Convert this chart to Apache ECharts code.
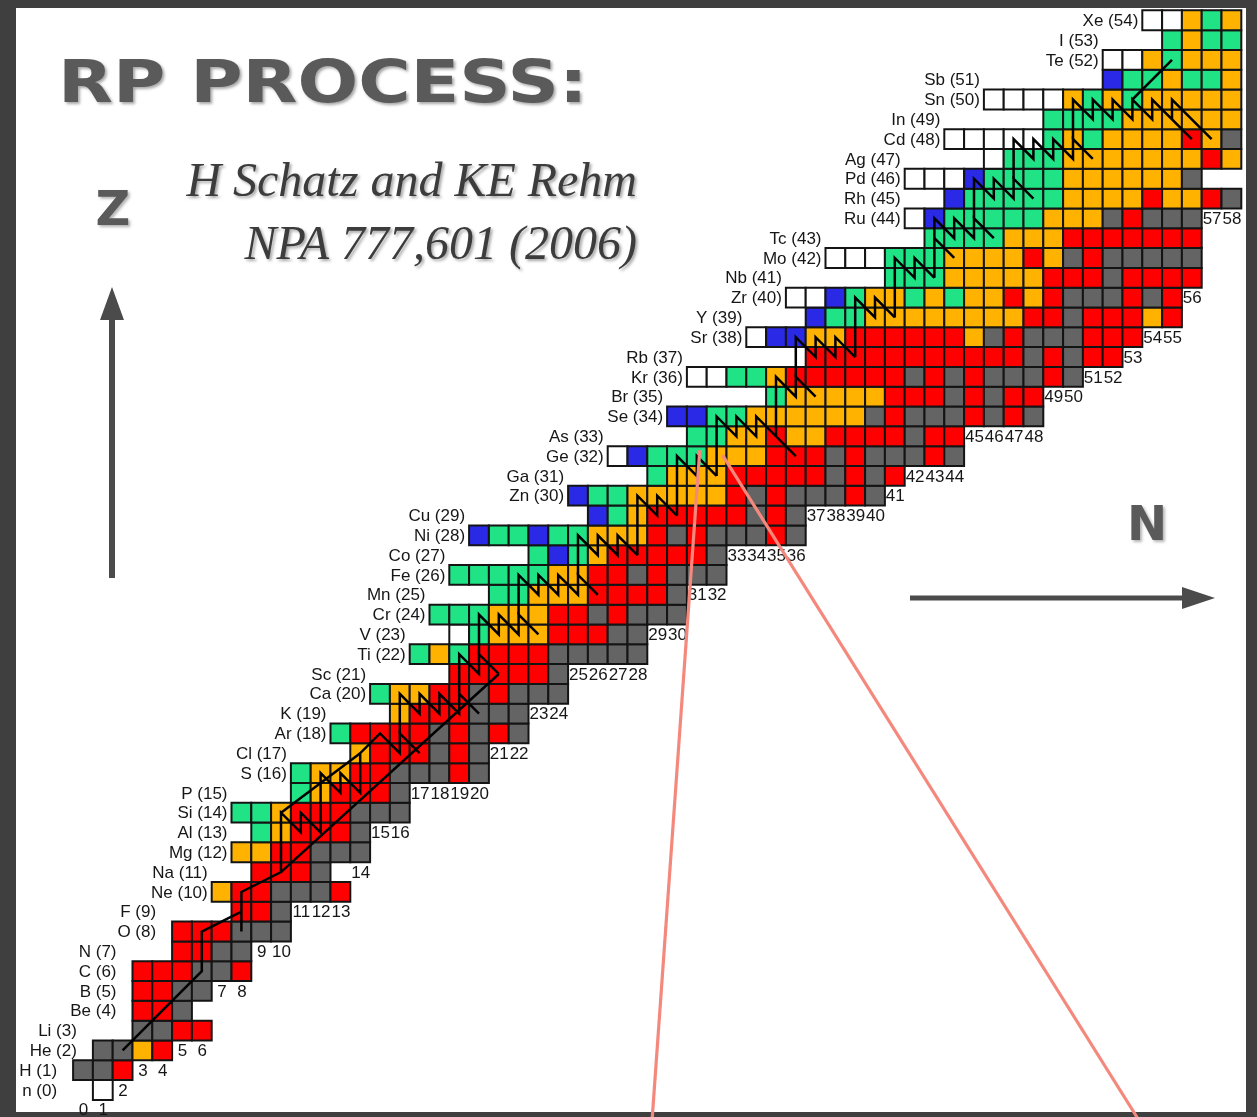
<!DOCTYPE html>
<html>
<head>
<meta charset="utf-8">
<script src="https://cdn.jsdelivr.net/npm/echarts@6/dist/echarts.min.js"></script>
<style>
  html, body { margin: 0; padding: 0; background: #3e3e3e; }
  #chart { width: 1257px; height: 1117px; }
</style>
</head>
<body>
<div id="chart"></div>
<script>
// Element symbols, index = proton number Z
const elements = ['n','H','He','Li','Be','B','C','N','O','F','Ne','Na','Mg','Al','Si','P','S','Cl','Ar','K',
  'Ca','Sc','Ti','V','Cr','Mn','Fe','Co','Ni','Cu','Zn','Ga','Ge','As','Se','Br','Kr','Rb','Sr','Y',
  'Zr','Nb','Mo','Tc','Ru','Rh','Pd','Ag','Cd','In','Sn','Sb','Te','I','Xe'];

// Lowest neutron number drawn in each row (index = Z)
const rowStart = [1,0,1,3,3,3,3,5,5,8, 7,9,8,9,8,11,11,14,13,16, 15,19,17,19,18,21,19,23,20,26,
  25,29,27,31,30,35,31,37,34,37, 36,41,38,43,42,44,42,46,44,49, 46,52,52,55,54];

// Status of each nuclide along a row, N increasing:
// K stable, R red, O orange, G green, B blue, W open (white)
const rowCells = [
  'W', 'KKR', 'KKOR', 'KKRR', 'RRK', 'RRKK', 'RRRKKR', 'RRKK', 'RRRKKK', 'RRK',
  'ORRKKKR', 'RRRK', 'OORRKKK', 'GORRRK', 'GGORRRKKK', 'GORRRK', 'GOORRKKKRK', 'ORRRKRK', 'GRRRRKRKRK', 'ORRRKKK',
  'GOORRKRKKK', 'RRRRRK', 'GOGRRRRKKKKK', 'WGOOORRRKK', 'GGGOOORRKRKKK', 'GGOOORRRRK', 'GGGGGOORRKRKKK', 'GBGORRRRRK',
  'BGGBGGOOORKRKKKRK', 'BGORRRRRKRK',
  'BGGOOOOORKRKKKRK', 'GOOORRRRRKRKR', 'WBGGGOOORRRKRKKKRK', 'GGOOROORRRRKRR', 'BBGGOOOOOOKRKKKRKRK',
  'GOOOOORRRKRKRR', 'WWGGORRRRRRKRKRKKKRK', 'RRRRRRRRRRRKRKRR', 'WBBOORRRRRROKRKKKRRR', 'BGGOOOOOOOORRKRRROR',
  'WWBGOOGOGOORORKKKRKR', 'GGGOOOOORRRKRRRR', 'WWWGGGOOOOROKRKKKKK', 'GGGGOOORRRRRRR', 'WBGGGGGOOOKRKKK',
  'BGGGGGOOOOROORK', 'WWWBGGGGOOOOOOK', 'WGGGOOOOOOORO', 'WWWWWGOGOOOOROK', 'GGGGOOOOOO',
  'WWWWOGOGOOOOO', 'BGGOGGO', 'WWOGOOO', 'GOGG', 'WWOGO'
];

// Row (Z) in which each neutron number N = 0..58 is written under its column
const neutronTickRow = [-1,-1,0,1,1,2,2,5,5,7, 7,9,9,9,11,13,13,15,15,15, 15,17,17,19,19,21,21,21,21,23,
  23,25,25,27,27,27,27,29,29,29, 29,30,31,31,31,33,33,33,33,35, 35,36,36,37,38,38,40,44,44];

// rp-process reaction flow, polylines of [N, Z]
const rpPath = [
  [[2,2],[6,6],[6,8],[8,9]],
  [[8,8],[8,10],[10,11],[10,14],[11,13],[11,14],[12,13],[12,16],[13,15],[13,16],[14,15],[14,17],[15,18],[16,17],[16,18],[17,17]],
  [[10,11],[21,21]],
  [[10,14],[14,17]],
  [[16,18],[16,20],[17,19],[17,20],[18,19],[18,20],[19,19],[19,20],[20,19]],
  [[19,20],[19,22],[20,21],[20,22],[21,21]],
  [[20,22],[20,24],[21,23],[21,24],[22,23],[22,24],[23,23]],
  [[22,24],[22,26],[23,25],[23,26],[24,25],[24,26],[25,25],[25,26],[26,25]],
  [[25,26],[25,28],[26,27],[26,28],[27,27],[27,28],[28,27]],
  [[28,27],[28,30],[29,29],[29,30],[30,29]],
  [[30,29],[30,32],[31,31],[31,32],[32,31]],
  [[32,31],[32,34],[33,33],[33,34],[34,33],[34,34],[36,32]],
  [[35,33],[35,36],[36,35],[36,36],[37,35]],
  [[36,36],[36,38],[37,37],[37,38],[38,37],[38,38],[39,37]],
  [[39,37],[39,40],[40,39],[40,40],[41,39]],
  [[41,39],[41,42],[42,41],[42,42],[43,41]],
  [[43,41],[43,44],[44,43],[44,44],[45,43],[45,44],[46,43]],
  [[43,43],[44,42]],
  [[45,44],[45,46],[46,45],[46,46],[47,45],[47,46],[48,45]],
  [[47,46],[47,48],[48,47],[48,48],[49,47],[49,48],[50,47],[50,48],[51,47]],
  [[50,48],[50,50],[51,49],[51,50],[52,49],[52,50],[53,49],[53,50],[54,49],[54,50],[56,48]],
  [[55,49],[55,50],[57,48]],
  [[53,50],[55,52]]
];

// Pointer lines leading from the Ge region to the lower edge, [N, Z]
const calloutLines = [
  [[31.15, 32.3], [28.75, -1.4]],
  [[32.3, 32.05], [53.25, -1.4]]
];

const palette = { K: '#646464', R: '#FF0000', O: '#FFB300', G: '#1FE385', B: '#2A2AE6', W: '#FFFFFF' };
const codes = 'KROGBW';

// nuclide cells
const cellData = [];
rowCells.forEach((s, z) => {
  for (let i = 0; i < s.length; i++) {
    if (s[i] === '.') continue;
    cellData.push([rowStart[z] + i, z, codes.indexOf(s[i])]);
  }
});

// element name labels: rows are labelled in pairs, right-aligned to the pair's first column
const elementLabelData = elements.map((sym, z) => {
  const base = z - (z % 2);
  const partner = rowStart[base + 1];
  const anchor = partner === undefined ? rowStart[base] : Math.min(rowStart[base], partner);
  return [anchor, z];
});

const neutronLabelData = neutronTickRow.map((z, n) => [n, z]);

const chart = echarts.init(document.getElementById('chart'), null, { renderer: 'canvas', width: 1257, height: 1117 });

const FONT = '"Liberation Sans", Arial, sans-serif';

const series = [
  {
    type: 'custom',
    name: 'nuclides',
    coordinateSystem: 'cartesian2d',
    data: cellData,
    z: 3,
    renderItem(params, api) {
      const c = api.coord([api.value(0), api.value(1)]);
      const s = api.size([1, 1]);
      return {
        type: 'rect',
        shape: { x: c[0] - s[0] / 2, y: c[1] - s[1] / 2, width: s[0], height: s[1] },
        style: { fill: palette[codes[api.value(2)]], stroke: '#141414', lineWidth: 2 }
      };
    }
  },
  {
    type: 'custom',
    name: 'elements',
    coordinateSystem: 'cartesian2d',
    data: elementLabelData,
    z: 4,
    renderItem(params, api) {
      const z = api.value(1);
      const c = api.coord([api.value(0) - 0.5, z]);
      const gap = z < 10 ? 16 : 4;
      return {
        type: 'text',
        x: c[0] - gap,
        y: c[1] + 1,
        style: {
          text: elements[z] + ' (' + z + ')',
          fill: '#161616',
          font: '17px ' + FONT,
          align: 'right',
          verticalAlign: 'middle'
        }
      };
    }
  },
  {
    type: 'custom',
    name: 'neutron numbers',
    coordinateSystem: 'cartesian2d',
    data: neutronLabelData,
    z: 4,
    renderItem(params, api) {
      const c = api.coord([api.value(0), api.value(1)]);
      return {
        type: 'text',
        x: c[0] + 0.5,
        y: c[1] + 1,
        style: {
          text: String(api.value(0)),
          fill: '#161616',
          font: '17px ' + FONT,
          align: 'center',
          verticalAlign: 'middle'
        }
      };
    }
  }
];

rpPath.forEach(seg => {
  series.push({
    type: 'line',
    data: seg,
    z: 5,
    symbol: 'none',
    silent: true,
    clip: false,
    lineStyle: { color: '#000000', width: 2.5, join: 'miter' }
  });
});

calloutLines.forEach(seg => {
  series.push({
    type: 'line',
    data: seg,
    z: 6,
    symbol: 'none',
    silent: true,
    clip: false,
    lineStyle: { color: '#F5887C', width: 3.2 }
  });
});

const arrowColor = '#4b4b4b';
const titleColor = '#5a5a5a';

const option = {
  animation: false,
  backgroundColor: '#3f3f3f',
  grid: { left: 0, right: 0, top: 0, bottom: 0, containLabel: false },
  xAxis: { type: 'value', show: false, min: -4.1919, max: 59.2929 },
  yAxis: { type: 'value', show: false, min: -1.3630, max: 55.0227 },
  graphic: [
    { type: 'rect', z: -10, shape: { x: 16, y: 8, width: 1230, height: 1104 }, style: { fill: '#ffffff' } },
    {
      type: 'text', x: 58, y: 87, scaleX: 1.21, z: 1,
      style: {
        text: 'RP PROCESS:', fill: titleColor,
        font: 'bold 59px "DejaVu Sans", sans-serif', align: 'left', verticalAlign: 'middle',
        textShadowColor: 'rgba(0,0,0,0.35)', textShadowBlur: 3, textShadowOffsetX: 2, textShadowOffsetY: 2
      }
    },
    {
      type: 'text', x: 637, y: 183, z: 1,
      style: {
        text: 'H Schatz and KE Rehm', fill: '#3c3c3c',
        font: 'italic 48px "Liberation Serif", serif', align: 'right', verticalAlign: 'middle',
        textShadowColor: 'rgba(0,0,0,0.35)', textShadowBlur: 3, textShadowOffsetX: 2, textShadowOffsetY: 2
      }
    },
    {
      type: 'text', x: 637, y: 246, z: 1,
      style: {
        text: 'NPA 777,601 (2006)', fill: '#3c3c3c',
        font: 'italic 48px "Liberation Serif", serif', align: 'right', verticalAlign: 'middle',
        textShadowColor: 'rgba(0,0,0,0.35)', textShadowBlur: 3, textShadowOffsetX: 2, textShadowOffsetY: 2
      }
    },
    {
      type: 'text', x: 113, y: 213, z: 1,
      style: {
        text: 'Z', fill: titleColor, font: 'bold 48px "DejaVu Sans", sans-serif',
        align: 'center', verticalAlign: 'middle',
        textShadowColor: 'rgba(0,0,0,0.3)', textShadowBlur: 3, textShadowOffsetX: 2, textShadowOffsetY: 2
      }
    },
    {
      type: 'text', x: 1147, y: 528, z: 1,
      style: {
        text: 'N', fill: titleColor, font: 'bold 48px "DejaVu Sans", sans-serif',
        align: 'center', verticalAlign: 'middle',
        textShadowColor: 'rgba(0,0,0,0.3)', textShadowBlur: 3, textShadowOffsetX: 2, textShadowOffsetY: 2
      }
    },
    { type: 'line', z: 1, shape: { x1: 112, y1: 578, x2: 112, y2: 312 }, style: { stroke: arrowColor, lineWidth: 6 } },
    { type: 'polygon', z: 1, shape: { points: [[112, 287], [100, 320], [124, 320]] }, style: { fill: arrowColor } },
    { type: 'line', z: 1, shape: { x1: 910, y1: 598, x2: 1190, y2: 598 }, style: { stroke: arrowColor, lineWidth: 5 } },
    { type: 'polygon', z: 1, shape: { points: [[1215, 598], [1182, 587], [1182, 609]] }, style: { fill: arrowColor } }
  ],
  series: series
};

chart.setOption(option);
</script>
</body>
</html>
